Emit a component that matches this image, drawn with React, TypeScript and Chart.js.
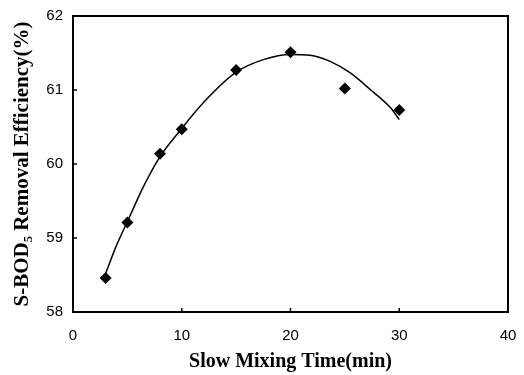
import React, { useEffect, useRef } from "react";
import { Chart, registerables } from "chart.js";

Chart.register(...registerables);

const mixTime = [3, 5, 8, 10, 15, 20, 25, 30];
const removal = [58.46, 59.21, 60.14, 60.47, 61.27, 61.51, 61.02, 60.73];

const fitTime = [3, 4, 5, 6.5, 8, 10, 12, 15, 17.5, 20, 21.8, 23.6, 25.5, 27.3, 29.2, 30];
const fitRemoval = [58.52, 58.9, 59.22, 59.7, 60.1, 60.48, 60.83, 61.24, 61.41, 61.48, 61.47, 61.39, 61.23, 61.01, 60.76, 60.6];

const xTicks = [0, 10, 20, 30, 40];
const yTicks = [58, 59, 60, 61, 62];

const frameAndTicks = {
  id: "frameAndTicks",
  afterDraw(chart: any) {
    const { ctx, chartArea } = chart;
    const xs = chart.scales.x;
    const ys = chart.scales.y;
    ctx.save();
    ctx.strokeStyle = "#000";
    ctx.lineWidth = 2;
    ctx.strokeRect(chartArea.left, chartArea.top, chartArea.right - chartArea.left, chartArea.bottom - chartArea.top);
    ctx.lineWidth = 1.5;
    ctx.beginPath();
    xTicks.slice(1, -1).forEach((v) => {
      const px = xs.getPixelForValue(v);
      ctx.moveTo(px, chartArea.bottom);
      ctx.lineTo(px, chartArea.bottom - 4);
    });
    yTicks.slice(1, -1).forEach((v) => {
      const py = ys.getPixelForValue(v);
      ctx.moveTo(chartArea.left, py);
      ctx.lineTo(chartArea.left + 4, py);
    });
    ctx.stroke();
    ctx.restore();
  },
};

export default function App() {
  const ref = useRef<HTMLCanvasElement>(null);
  useEffect(() => {
    if (!ref.current) return;
    const tickFont = { family: "'Liberation Sans Narrow', 'Liberation Sans', sans-serif", size: 15 };
    const serif = "'Liberation Serif', 'Times New Roman', serif";
    const chart = new Chart(ref.current, {
      type: "scatter",
      data: {
        datasets: [
          {
            label: "fit",
            data: fitTime.map((x, i) => ({ x, y: fitRemoval[i] })),
            showLine: true,
            borderColor: "#000",
            borderWidth: 1.5,
            pointRadius: 0,
            cubicInterpolationMode: "monotone",
            fill: false,
          },
          {
            label: "data",
            data: mixTime.map((x, i) => ({ x, y: removal[i] })),
            pointStyle: "rectRot",
            pointRadius: 6,
            backgroundColor: "#000",
            borderColor: "#000",
            borderWidth: 0,
          },
        ],
      },
      options: {
        animation: false,
        responsive: true,
        maintainAspectRatio: false,
        layout: { padding: { top: 16, right: 16, left: 0, bottom: 0 } },
        plugins: { legend: { display: false }, tooltip: { enabled: false } },
        scales: {
          x: {
            type: "linear",
            min: 0,
            max: 40,
            afterBuildTicks: (s: any) => { s.ticks = xTicks.map((v) => ({ value: v })); },
            afterFit: (s: any) => { s.height = 63; s.paddingRight = 0; s.paddingLeft = 0; },
            grid: { display: false, drawTicks: false },
            border: { display: false },
            ticks: { color: "#000", font: tickFont, padding: 15, maxRotation: 0 },
            title: { display: true, text: "Slow Mixing Time(min)", color: "#000", font: { family: serif, size: 20, weight: "bold" }, padding: { top: 0, bottom: 1 } },
          },
          y: {
            type: "linear",
            min: 58,
            max: 62,
            afterBuildTicks: (s: any) => { s.ticks = yTicks.map((v) => ({ value: v })); },
            afterFit: (s: any) => { s.width = 73; s.paddingTop = 0; s.paddingBottom = 0; },
            grid: { display: false, drawTicks: false },
            border: { display: false },
            ticks: { color: "#000", font: tickFont, padding: 10 },
            title: { display: true, text: "S-BOD\u2085 Removal Efficiency(%)", color: "#000", font: { family: serif, size: 21, weight: "bold" }, padding: { top: 10, bottom: 0 } },
          },
        },
      },
      plugins: [frameAndTicks],
    });
    return () => chart.destroy();
  }, []);
  return (
    <div style={{ position: "fixed", left: 0, top: 0, width: 524, height: 375, background: "#fff" }}>
      <canvas ref={ref} />
    </div>
  );
}
